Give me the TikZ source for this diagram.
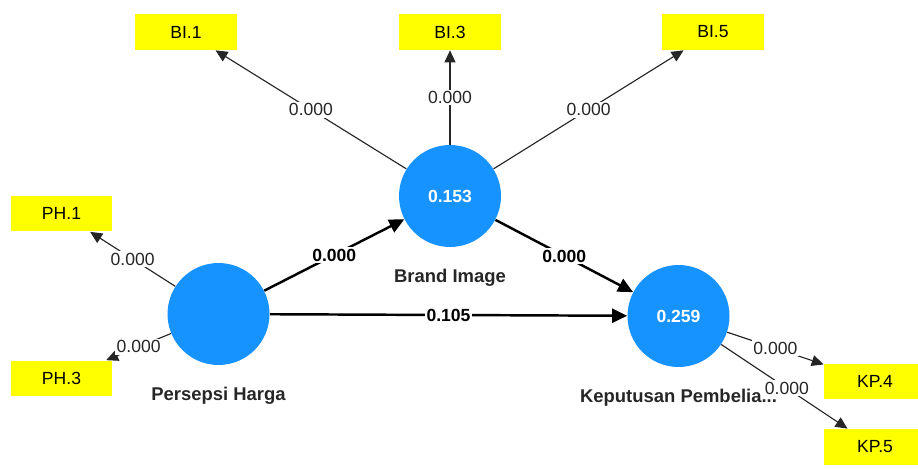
\documentclass[tikz,border=0pt]{standalone}
\usepackage{fontspec}
\setmainfont{Liberation Sans}
\usetikzlibrary{arrows.meta,positioning}
\definecolor{lvblue}{RGB}{22,147,254}
\definecolor{mvyellow}{RGB}{255,255,0}
\tikzset{
  lvnode/.style={circle, fill=lvblue, minimum size=2.04cm, inner sep=0pt, text=white, font=\fontsize{10}{12}\selectfont\bfseries},
  mvbox/.style={fill=mvyellow, minimum width=2.04cm, minimum height=0.72cm, inner sep=0pt, font=\fontsize{10}{12}\selectfont},
  lvname/.style={font=\fontsize{10.5}{12}\selectfont\bfseries, text=black!85},
  pathline/.style={-{Triangle[length=3mm,width=2.8mm]}, line width=1.4pt},
  loadline/.style={-{Triangle[length=2.4mm,width=2.2mm]}, line width=0.65pt, draw=black!85},
  coef/.style={fill=white, inner sep=1pt, font=\fontsize{10}{12}\selectfont\bfseries},
  loadcoef/.style={fill=white, inner sep=1pt, font=\fontsize{10}{12}\selectfont, text=black!85}
}
\begin{document}
\begin{tikzpicture}[x=0.02cm, y=-0.02cm]
  \useasboundingbox (0,0) rectangle (918,469);

  % latent variables
  \node[lvnode] (PH) at (218.5,314) {};
  \node[lvnode] (BI) at (450,196) {0.153};
  \node[lvnode] (KP) at (678.5,316) {0.259};

  % indicators
  \node[mvbox] (PH1) at (61.5,213.5) {PH.1};
  \node[mvbox] (PH3) at (61.5,378.5) {PH.3};
  \node[mvbox] (BI1) at (186,32) {BI.1};
  \node[mvbox] (BI3) at (450,32) {BI.3};
  \node[mvbox] (BI5) at (713,32) {BI.5};
  \node[mvbox] (KP4) at (875,381.5) {KP.4};
  \node[mvbox] (KP5) at (875,447) {KP.5};

  % outer loadings
  \draw[loadline] (BI) -- node[loadcoef] {0.000} (BI1);
  \draw[loadline] (BI) -- node[loadcoef] {0.000} (BI3);
  \draw[loadline] (BI) -- node[loadcoef] {0.000} (BI5);
  \draw[loadline] (PH) -- node[loadcoef] {0.000} (PH1);
  \draw[loadline] (PH) -- node[loadcoef] {0.000} (PH3);
  \draw[loadline] (KP) -- node[loadcoef] {0.000} (KP4);
  \draw[loadline] (KP) -- node[loadcoef, pos=0.52] {0.000} (KP5);

  % inner model
  \draw[pathline] (PH) -- node[coef] {0.000} (BI);
  \draw[pathline] (BI) -- node[coef] {0.000} (KP);
  \draw[pathline] (PH) -- node[coef] {0.105} (KP);

  % names
  \node[lvname, below=0.32cm of PH] (PHname) {Persepsi Harga};
  \node[lvname, below=0.32cm of BI] (BIname) {Brand Image};
  \node[lvname, below=0.32cm of KP] (KPname) {Keputusan Pembelia...};
\end{tikzpicture}
\end{document}
